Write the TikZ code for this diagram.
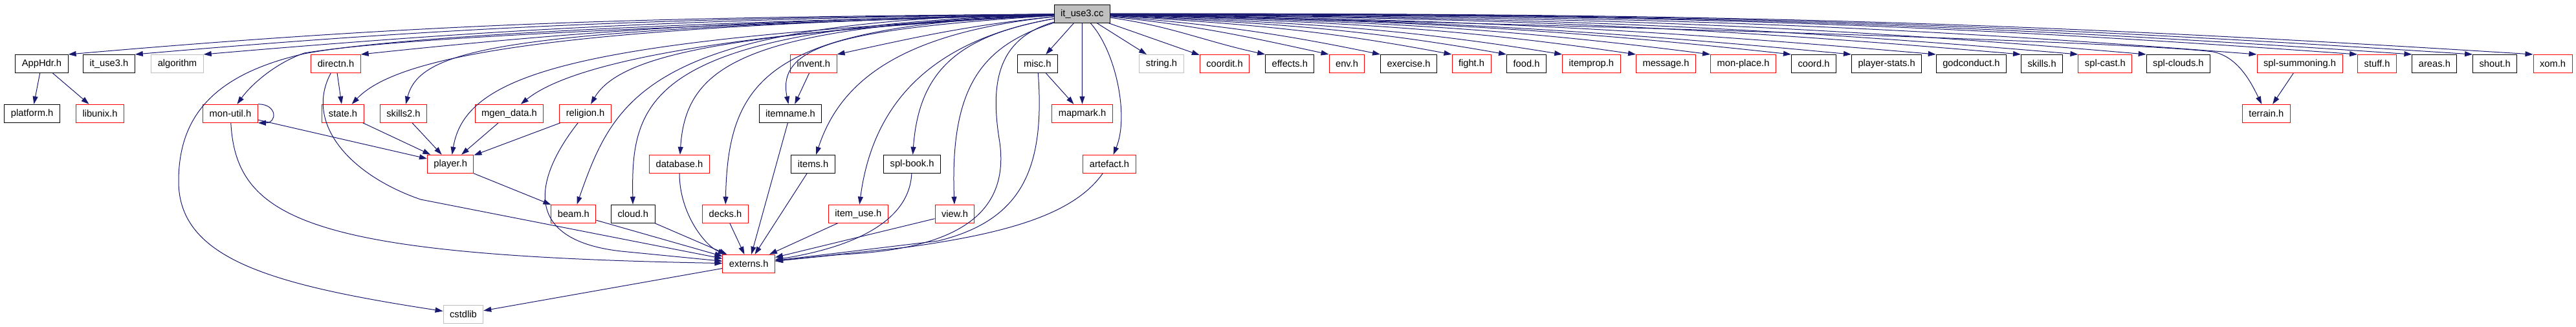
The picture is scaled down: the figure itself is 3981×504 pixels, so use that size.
\documentclass[tikz,border=0pt]{standalone}
\usepackage{fontspec}
\setmainfont{Liberation Sans}
\usetikzlibrary{arrows.meta}
\definecolor{depblue}{HTML}{191970}
\definecolor{sysgray}{HTML}{BFBFBF}
\begin{document}
\begin{tikzpicture}[x=1pt, y=1pt, >={Triangle[length=12pt,width=8pt]},
  hdr/.style={draw=black, line width=1pt, minimum height=28pt, inner xsep=10pt, inner ysep=0pt, font=\fontsize{14.7}{17}\selectfont},
  hdrred/.style={hdr, draw=red},
  hdrsys/.style={hdr, draw=sysgray},
  hdrroot/.style={hdr, fill=sysgray},
  dep/.style={->, draw=depblue, line width=1pt}]
\useasboundingbox (0,0) rectangle (3981,-504);

% the file itself
\node[hdrroot] (root) at (1672.3,-21.3) {it\_use3.cc};

% first level
\node[hdr] (apphdr) at (64.5,-98.5) {AppHdr.h};
\node[hdr] (ituseh) at (168.5,-98.5) {it\_use3.h};
\node[hdrsys] (algorithm) at (274,-98.5) {algorithm};
\node[hdrred] (directn) at (519,-98.5) {directn.h};
\node[hdrred] (invent) at (1257.3,-98.5) {invent.h};
\node[hdr] (misc) at (1603.3,-98.5) {misc.h};
\node[hdrsys] (string) at (1795,-98.5) {string.h};
\node[hdrred] (coordit) at (1892.5,-98.5) {coordit.h};
\node[hdr] (effects) at (1993.3,-98.5) {effects.h};
\node[hdrred] (env) at (2081.5,-98.5) {env.h};
\node[hdr] (exercise) at (2177,-98.5) {exercise.h};
\node[hdrred] (fight) at (2274,-98.5) {fight.h};
\node[hdr] (food) at (2359,-98.5) {food.h};
\node[hdrred] (itemprop) at (2459.4,-98.5) {itemprop.h};
\node[hdrred] (message) at (2574.5,-98.5) {message.h};
\node[hdrred] (monplace) at (2694,-98.5) {mon-place.h};
\node[hdr] (coord) at (2803,-98.5) {coord.h};
\node[hdr] (playerstats) at (2915.6,-98.5) {player-stats.h};
\node[hdr] (godconduct) at (3046.4,-98.5) {godconduct.h};
\node[hdr] (skills) at (3155.6,-98.5) {skills.h};
\node[hdrred] (splcast) at (3253.4,-98.5) {spl-cast.h};
\node[hdr] (splclouds) at (3366.4,-98.5) {spl-clouds.h};
\node[hdrred] (splsumm) at (3554,-98.5) {spl-summoning.h};
\node[hdrred] (stuff) at (3673.5,-98.5) {stuff.h};
\node[hdr] (areas) at (3762.4,-98.5) {areas.h};
\node[hdr] (shout) at (3855.7,-98.5) {shout.h};
\node[hdrred] (xom) at (3945,-98.5) {xom.h};

% second level
\node[hdr] (platform) at (49.6,-175.3) {platform.h};
\node[hdrred] (libunix) at (154.5,-175.3) {libunix.h};
\node[hdrred] (monutil) at (356,-175.3) {mon-util.h};
\node[hdrred] (state) at (530,-175.3) {state.h};
\node[hdrred] (skillstwo) at (623.5,-175.3) {skills2.h};
\node[hdrred] (mgendata) at (787,-175.3) {mgen\_data.h};
\node[hdrred] (religion) at (904.6,-175.3) {religion.h};
\node[hdr] (itemname) at (1221.4,-175.3) {itemname.h};
\node[hdrred] (mapmark) at (1672.5,-175.3) {mapmark.h};
\node[hdrred] (terrain) at (3502.4,-175.3) {terrain.h};

% third level
\node[hdrred] (player) at (696.2,-253.3) {player.h};
\node[hdrred] (database) at (1050,-253.3) {database.h};
\node[hdr] (items) at (1256.5,-253.3) {items.h};
\node[hdr] (splbook) at (1409.6,-253.3) {spl-book.h};
\node[hdrred] (artefact) at (1714.5,-253.3) {artefact.h};

% fourth level
\node[hdrred] (beam) at (886.4,-330.2) {beam.h};
\node[hdr] (cloud) at (978.3,-330.2) {cloud.h};
\node[hdrred] (decks) at (1121,-330.2) {decks.h};
\node[hdrred] (itemuse) at (1326.4,-330.2) {item\_use.h};
\node[hdrred] (view) at (1475.5,-330.2) {view.h};

\node[hdrred] (externs) at (1157.2,-407.3) {externs.h};
\node[hdrsys] (cstdlib) at (715.9,-485.3) {cstdlib};

% fan to the first level
\draw[dep] (root) .. controls (1034.4,-27) and (699,-32.6) .. (apphdr.north east);
\draw[dep] (root) .. controls (1075,-28) and (762.5,-36.1) .. (ituseh.north east);
\draw[dep] (root) .. controls (1117,-29) and (827.6,-39.8) .. (algorithm.north east);
\draw[dep] (root) .. controls (1211.2,-31.5) and (975.4,-39.6) .. (directn.north east);
\draw[dep] (root) .. controls (1498,-39) and (1424.3,-55.5) .. (invent.north east);
\draw[dep] (root) -- (misc);
\draw[dep] (root) -- (mapmark);
\draw[dep] (root) -- (string);
\draw[dep] (root) -- (coordit);
\draw[dep] (root) .. controls (1809,-40) and (1861.6,-63.8) .. (effects.north west);
\draw[dep] (root) .. controls (1847.4,-39) and (1921.8,-55.3) .. (env.north west);
\draw[dep] (root) .. controls (1878.6,-38.2) and (1970.5,-50.4) .. (exercise.north west);
\draw[dep] (root) .. controls (1921.4,-37) and (2037.5,-45) .. (fight.north west);
\draw[dep] (root) .. controls (1954.7,-36.2) and (2089.6,-41.8) .. (food.north west);
\draw[dep] (root) .. controls (1987.7,-35.3) and (2141.3,-39.4) .. (itemprop.north west);
\draw[dep] (root) .. controls (2032.7,-34.1) and (2211.6,-37.7) .. (message.north west);
\draw[dep] (root) .. controls (2077.4,-32.9) and (2281.5,-37.6) .. (monplace.north west);
\draw[dep] (root) .. controls (2126.2,-31.7) and (2357.7,-39.1) .. (coord.north west);
\draw[dep] (root) .. controls (2162.6,-30.7) and (2414.6,-41.8) .. (playerstats.north west);
\draw[dep] (root) .. controls (2213.6,-29.4) and (2494.4,-41) .. (godconduct.north west);
\draw[dep] (root) .. controls (2264.6,-28) and (2574.7,-36.5) .. (skills.north west);
\draw[dep] (root) .. controls (2298.9,-27.2) and (2627.9,-33.6) .. (splcast.north west);
\draw[dep] (root) .. controls (2340.4,-26.1) and (2692.7,-30) .. (splclouds.north west);
\draw[dep] (root) .. controls (2406.8,-24.3) and (2796.8,-30) .. (splsumm.north west);
\draw[dep] (root) .. controls (2467.3,-22.7) and (2891.3,-30) .. (stuff.north west);
\draw[dep] (root) .. controls (2500.4,-21.9) and (2943,-30) .. (areas.north west);
\draw[dep] (root) .. controls (2536.6,-20.9) and (2999.6,-30) .. (shout.north west);
\draw[dep] (root) .. controls (2573.1,-20) and (3056.9,-30) .. (xom.north west);

% long ones from the file
\draw[dep] (root) .. controls (1000,-40) and (600,-60) .. (470,-82) .. controls (420,-100) and (385,-135) .. (monutil);
\draw[dep] (root) .. controls (1000,-35) and (600,-58) .. (470,-83) .. controls (330,-115) and (276,-180) .. (276,-280) .. controls (276,-400) and (420,-440) .. (cstdlib);
\draw[dep] (root) .. controls (900,-40) and (620,-80) .. (state);
\draw[dep] (root) .. controls (800,-45) and (650,-70) .. (skillstwo);
\draw[dep] (root) .. controls (900,-60) and (720,-110) .. (player);
\draw[dep] (root) .. controls (1100,-50) and (880,-100) .. (mgendata);
\draw[dep] (root) .. controls (1150,-50) and (960,-80) .. (religion);
\draw[dep] (root) .. controls (1000,-30) and (950,-150) .. (beam);
\draw[dep] (root) .. controls (1000,-40) and (975,-150) .. (cloud);
\draw[dep] (root) .. controls (1150,-40) and (1060,-100) .. (database);
\draw[dep] (root) .. controls (1200,-40) and (1125,-110) .. (decks);
\draw[dep] (root) .. controls (1300,-45) and (1200,-70) .. (itemname);
\draw[dep] (root) .. controls (1400,-50) and (1300,-120) .. (items);
\draw[dep] (root) .. controls (1450,-60) and (1350,-150) .. (itemuse);
\draw[dep] (root) .. controls (1480,-55) and (1420,-110) .. (splbook);
\draw[dep] (root) .. controls (1520,-70) and (1468,-130) .. (view);
\draw[dep] (root) .. controls (1725,-80) and (1745,-180) .. (artefact);
\draw[dep] (root) .. controls (1540,-60) and (1530,-130) .. (1545,-220) .. controls (1560,-330) and (1480,-385) .. (1300,-393) -- (externs);
\draw[dep] (root) .. controls (2500,-40) and (3300,-65) .. (3420,-80) .. controls (3460,-88) and (3480,-130) .. (terrain);

% the rest
\draw[dep] (apphdr) -- (platform);
\draw[dep] (apphdr) -- (libunix);
\draw[dep] (directn) -- (state);
\draw[dep] (directn) .. controls (470,-190) and (540,-270) .. (650,-308) -- (externs);
\draw[dep] (monutil.north east) .. controls +(30,0) and +(30,0) .. (monutil.south east);
\draw[dep] (monutil) -- (player);
\draw[dep] (monutil) .. controls (365,-340) and (480,-395) .. (externs);
\draw[dep] (state) -- (player);
\draw[dep] (skillstwo) -- (player);
\draw[dep] (mgendata) -- (player);
\draw[dep] (religion) -- (player);
\draw[dep] (religion) .. controls (830,-270) and (800,-370) .. (960,-388) -- (externs);
\draw[dep] (player) -- (beam);
\draw[dep] (invent) -- (itemname);
\draw[dep] (itemname) -- (externs);
\draw[dep] (database) .. controls (1050,-330) and (1090,-380) .. (externs);
\draw[dep] (beam) -- (externs);
\draw[dep] (cloud) -- (externs);
\draw[dep] (decks) -- (externs);
\draw[dep] (items) -- (externs);
\draw[dep] (itemuse) -- (externs);
\draw[dep] (splbook) .. controls (1405,-350) and (1300,-385) .. (externs);
\draw[dep] (view) -- (externs);
\draw[dep] (misc) -- (mapmark);
\draw[dep] (misc) .. controls (1615,-260) and (1580,-340) .. (1450,-372) -- (externs);
\draw[dep] (artefact) .. controls (1660,-330) and (1560,-360) .. (1400,-382) -- (externs);
\draw[dep] (splsumm) -- (terrain);
\draw[dep] (externs) -- (cstdlib);
\end{tikzpicture}
\end{document}
